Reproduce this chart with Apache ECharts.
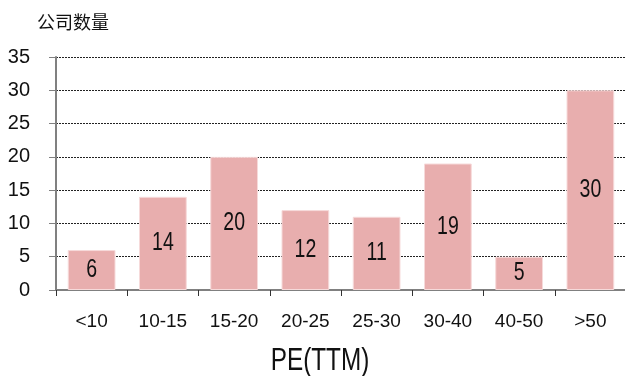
<!DOCTYPE html>
<html>
<head>
<meta charset="utf-8">
<script src="https://cdn.jsdelivr.net/npm/echarts@6/dist/echarts.min.js"></script>
<style>
html,body{margin:0;padding:0;background:#fff;}
#chart{width:625px;height:376px;}
</style>
</head>
<body>
<div id="chart"></div>
<script>
// PE (TTM) buckets and company counts
const categories = ['<10', '10-15', '15-20', '20-25', '25-30', '30-40', '40-50', '>50'];
const companyCounts = [6, 14, 20, 12, 11, 19, 5, 30];
const yTicks = { min: 0, max: 35, interval: 5 };

const chart = echarts.init(document.getElementById('chart'), null, { renderer: 'canvas' });
const font = '"Liberation Sans", Arial, sans-serif';

// Condensed value text centred in each bar
function renderValueLabel(params, api) {
  const v = api.value(1);
  const p = api.coord([api.value(0), v / 2]);
  return {
    type: 'text',
    x: p[0],
    y: p[1],
    scaleX: 0.78,
    style: {
      text: String(v),
      fontFamily: font,
      fontSize: 25,
      fill: '#111',
      align: 'center',
      verticalAlign: 'middle'
    }
  };
}

chart.setOption({
  animation: false,
  backgroundColor: '#ffffff',
  title: {
    text: '公司数量',
    left: 32,
    top: 8,
    textStyle: { fontFamily: '"Noto Sans CJK SC"', fontSize: 18, fontWeight: 'normal', color: '#111' }
  },
  grid: { left: 56, right: -1, top: 57, bottom: 86, containLabel: false, outerBoundsMode: 'none' },
  xAxis: {
    type: 'category',
    data: categories,
    axisLine: { lineStyle: { color: '#808080', width: 2 } },
    axisTick: { show: true, length: 6, lineStyle: { color: '#333', width: 1 } },
    axisLabel: { fontFamily: font, fontSize: 19, color: '#111', margin: 22 }
  },
  yAxis: {
    type: 'value',
    min: yTicks.min,
    max: yTicks.max,
    interval: yTicks.interval,
    axisLine: { show: true, lineStyle: { color: '#808080', width: 2 } },
    axisTick: { show: true, length: 7, lineStyle: { color: '#808080', width: 1 } },
    axisLabel: { fontFamily: font, fontSize: 20, color: '#111', margin: 26 },
    splitLine: { show: true, lineStyle: { color: '#222', type: [2, 1], width: 1 } }
  },
  graphic: [{
    type: 'text',
    x: 320,
    y: 361,
    scaleX: 0.76,
    style: {
      text: 'PE(TTM)',
      fontFamily: font,
      fontSize: 32,
      fill: '#111',
      align: 'center',
      verticalAlign: 'middle'
    }
  }],
  series: [{
    type: 'bar',
    data: companyCounts,
    barWidth: '67%',
    itemStyle: { color: '#E8AEAE', borderColor: '#F6DADA', borderWidth: 1 }
  }, {
    type: 'custom',
    data: companyCounts.map((v, i) => [i, v]),
    renderItem: renderValueLabel,
    z: 5
  }]
});
</script>
</body>
</html>
